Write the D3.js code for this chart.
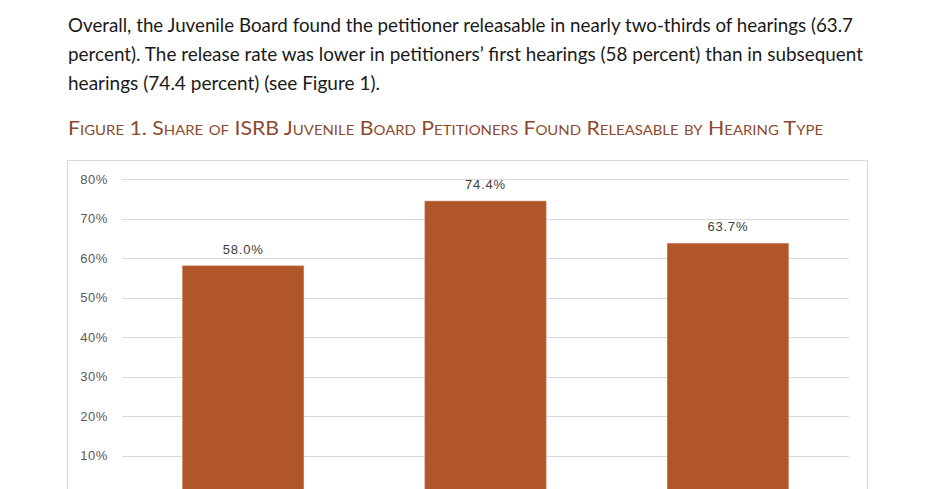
<!DOCTYPE html>
<html>
<head>
<meta charset="utf-8">
<script src="https://cdn.jsdelivr.net/npm/d3@7"></script>
<style>
  html, body { margin: 0; padding: 0; background: #fff; }
  svg { display: block; }
</style>
</head>
<body>
<div id="chart"></div>
<script>
// paragraph above the figure, one entry per printed line
const introLines = [
    'Overall, the Juvenile Board found the petitioner releasable in nearly two-thirds of hearings (63.7',
    'percent). The release rate was lower in petitioners\u2019 first hearings (58 percent) than in subsequent',
    'hearings (74.4 percent) (see Figure 1).'
];
const introWidths = [785, 795, 312];
const figureTitle = 'Figure 1. Share of ISRB Juvenile Board Petitioners Found Releasable by Hearing Type';

// chart data
const categories = ['First hearing', 'Subsequent hearings', 'All hearings'];
const values = [58.0, 74.4, 63.7];
const yTicks = [10, 20, 30, 40, 50, 60, 70, 80];

const width = 940, height = 489;

const svg = d3.select('#chart')
    .append('svg')
    .attr('width', width)
    .attr('height', height);

// Text block
svg.append('g')
    .selectAll('text')
    .data(introLines)
    .enter()
    .append('text')
    .attr('x', 68)
    .attr('y', (d, i) => 32 + i * 29)
    .attr('font-family', 'Lato, "Open Sans", sans-serif')
    .attr('font-size', 20)
    .attr('fill', '#1a1a1a')
    .attr('textLength', (d, i) => introWidths[i])
    .attr('lengthAdjust', 'spacingAndGlyphs')
    .text(d => d);

svg.append('text')
    .attr('x', 68)
    .attr('y', 135)
    .attr('font-family', 'Lato, "Open Sans", sans-serif')
    .attr('font-size', 20)
    .style('font-variant', 'small-caps')
    .attr('fill', '#8C4A2F')
    .attr('textLength', 755)
    .attr('lengthAdjust', 'spacingAndGlyphs')
    .text(figureTitle);

// Chart frame
svg.append('rect')
    .attr('x', 67.5)
    .attr('y', 160.5)
    .attr('width', 800)
    .attr('height', 340)
    .attr('fill', 'none')
    .attr('stroke', '#D9D9D9')
    .attr('stroke-width', 1);

const plot = { left: 122, right: 849 };

const x = d3.scaleBand()
    .domain(categories)
    .range([plot.left, plot.right])
    .paddingInner(0.5)
    .paddingOuter(0.25);

const y = d3.scaleLinear()
    .domain([0, 80])
    .range([495, 179]);

// Gridlines
svg.append('g')
    .selectAll('line')
    .data(yTicks)
    .enter()
    .append('line')
    .attr('x1', plot.left)
    .attr('x2', plot.right)
    .attr('y1', d => Math.round(y(d)) + 0.5)
    .attr('y2', d => Math.round(y(d)) + 0.5)
    .attr('stroke', '#D9D9D9')
    .attr('stroke-width', 1);

// Y axis labels
const yAxis = svg.append('g')
    .attr('transform', `translate(${plot.left},0)`)
    .call(d3.axisLeft(y).tickValues(yTicks).tickSize(0).tickPadding(14).tickFormat(d => d + '%'));
yAxis.select('.domain').remove();
yAxis.selectAll('text')
    .attr('font-family', '"Liberation Sans", Arial, sans-serif')
    .attr('font-size', 13)
    .attr('letter-spacing', 0.6)
    .attr('fill', '#595959');

// Bars
svg.append('g')
    .selectAll('rect')
    .data(values)
    .enter()
    .append('rect')
    .attr('x', (d, i) => x(categories[i]))
    .attr('y', d => y(d))
    .attr('width', x.bandwidth())
    .attr('height', d => y(0) - y(d))
    .attr('fill', '#B05628')
    .attr('stroke', '#C97A55')
    .attr('stroke-width', 0.6);

// Data labels
svg.append('g')
    .selectAll('text')
    .data(values)
    .enter()
    .append('text')
    .attr('x', (d, i) => x(categories[i]) + x.bandwidth() / 2)
    .attr('y', d => y(d) - 12)
    .attr('text-anchor', 'middle')
    .attr('font-family', '"Liberation Sans", Arial, sans-serif')
    .attr('font-size', 13)
    .attr('letter-spacing', 0.8)
    .attr('fill', '#404040')
    .text(d => d.toFixed(1) + '%');
</script>
</body>
</html>
